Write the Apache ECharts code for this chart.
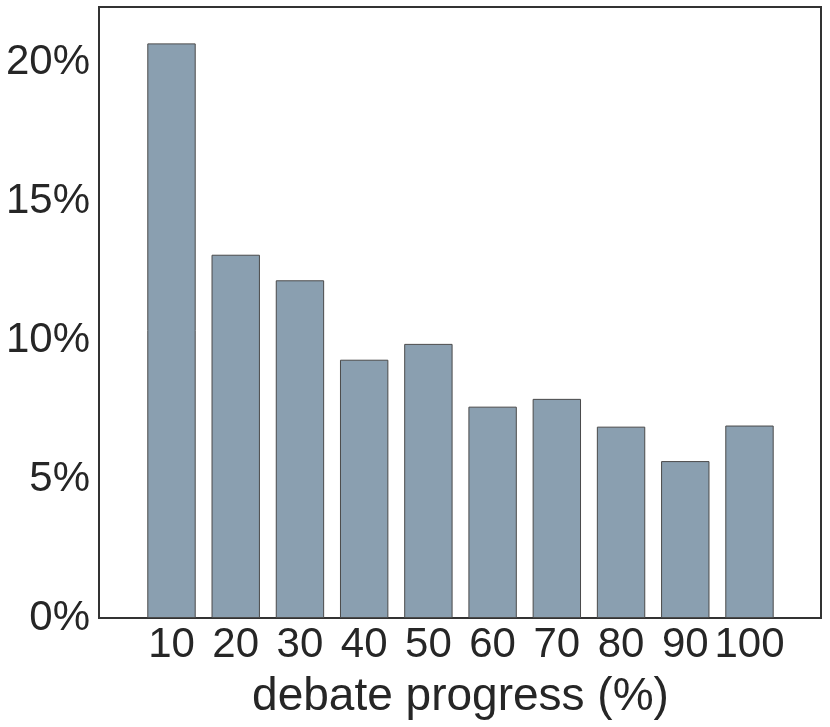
<!DOCTYPE html>
<html>
<head>
<meta charset="utf-8">
<script src="https://cdn.jsdelivr.net/npm/echarts@6/dist/echarts.min.js"></script>
<style>
  html, body { margin: 0; padding: 0; background: #fff; }
  #chart { width: 830px; height: 727px; }
</style>
</head>
<body>
<div id="chart"></div>
<script>
// debate progress buckets and share of items in each (%)
const progress = ['10', '20', '30', '40', '50', '60', '70', '80', '90', '100'];
const share = [20.69, 13.08, 12.16, 9.30, 9.87, 7.61, 7.89, 6.89, 5.65, 6.93];
const yMax = 22;
const yStep = 5;

const chart = echarts.init(document.getElementById('chart'));

const textColor = '#262626';
const font = 'Liberation Sans, Arial, Helvetica, sans-serif';

const option = {
  backgroundColor: '#ffffff',
  animation: false,
  grid: [
    // outer frame, carries the y labels
    { left: 99, top: 7, width: 722, height: 611, show: true, borderColor: '#333', borderWidth: 2, backgroundColor: 'transparent' },
    // inner grid for the bars (bands are narrower than the frame)
    { left: 139.4, top: 7, width: 642.2, height: 611 }
  ],
  xAxis: [
    { gridIndex: 0, type: 'category', data: progress, show: false },
    {
      gridIndex: 1,
      type: 'category',
      data: progress,
      axisLine: { show: false },
      axisTick: { show: false },
      axisLabel: { color: textColor, fontSize: 42, fontFamily: font, margin: 6, interval: 0 },
      name: 'debate progress (%)',
      nameLocation: 'middle',
      nameGap: 56,
      nameTextStyle: { color: textColor, fontSize: 46, fontFamily: font }
    }
  ],
  yAxis: [
    {
      gridIndex: 0,
      type: 'value',
      min: 0,
      max: yMax,
      interval: yStep,
      axisLine: { show: false },
      axisTick: { show: false },
      splitLine: { show: false },
      axisLabel: {
        color: textColor,
        fontSize: 42,
        fontFamily: font,
        margin: 9,
        formatter: function (v) { return v % yStep === 0 ? v + '%' : ''; }
      }
    },
    { gridIndex: 1, type: 'value', min: 0, max: yMax, show: false }
  ],
  series: [
    {
      type: 'bar',
      xAxisIndex: 1,
      yAxisIndex: 1,
      data: share,
      barWidth: 48.4,
      itemStyle: { color: '#8a9fb0', borderColor: '#4a4a4a', borderWidth: 1 }
    }
  ]
};

chart.setOption(option);
</script>
</body>
</html>
